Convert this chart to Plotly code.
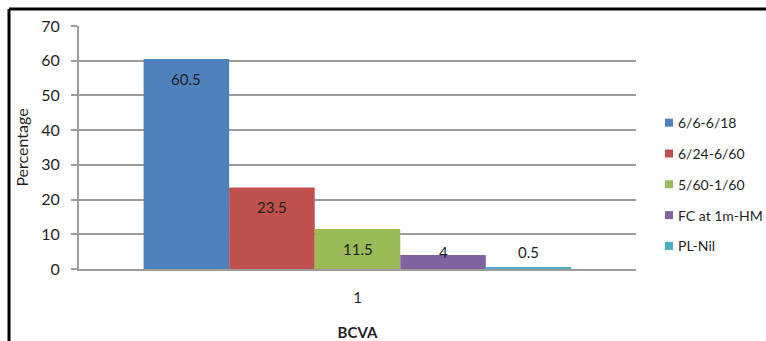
import plotly.graph_objects as go

# BCVA distribution (percent of eyes)
categories = ["1"]
groups = ["6/6-6/18", "6/24-6/60", "5/60-1/60", "FC at 1m-HM", "PL-Nil"]
values = [60.5, 23.5, 11.5, 4, 0.5]
colors = ["#4F81BD", "#C0504D", "#9BBB59", "#8064A2", "#4BACC6"]
y_ticks = [0, 10, 20, 30, 40, 50, 60, 70]

FONT = "Lato, 'Liberation Sans', sans-serif"
TXT = "#1f1f1f"
GRID = "#9c9c9c"

# plot-area geometry in pixels
W, H = 766, 341
L, R, T, B = 79, 636, 26, 269
pw, ph = R - L, B - T
BARGAP = 0.232
bar_px = pw * (1 - BARGAP) / len(values)


def px(xp):
    return (xp - L) / pw


def py(yp):
    return (B - yp) / ph


fig = go.Figure()
for name, v, c in zip(groups, values, colors):
    fig.add_trace(go.Bar(
        x=categories, y=[v], name=name, marker=dict(color=c, line=dict(width=0)),
        hoverinfo="skip", showlegend=False,
    ))

annotations = []
# value labels just inside the top of each bar (short bars keep a floor)
for i, v in enumerate(values):
    annotations.append(dict(
        x=0, y=max(v - 5.75, 4.9), xref="x", yref="y",
        text=f"{v:g}", showarrow=False, font=dict(family=FONT, size=15, color=TXT),
        xshift=(i - (len(values) - 1) / 2) * bar_px,
    ))

shapes = [
    # frame around the chart
    dict(type="line", xref="paper", yref="paper", x0=px(9), x1=px(9), y0=py(9), y1=py(360),
         line=dict(color="black", width=3)),
    dict(type="line", xref="paper", yref="paper", x0=px(9), x1=px(780), y0=py(9), y1=py(9),
         line=dict(color="black", width=3)),
]

# legend: colour swatch + label per group
leg_top, leg_step = 122.7, 30.8
for i, (name, c) in enumerate(zip(groups, colors)):
    yc = leg_top + i * leg_step
    shapes.append(dict(type="rect", xref="paper", yref="paper",
                       x0=px(665), x1=px(673), y0=py(yc - 4), y1=py(yc + 4),
                       fillcolor=c, line=dict(width=0)))
    annotations.append(dict(
        x=px(676), y=py(yc), xref="paper", yref="paper", xanchor="left", yanchor="middle",
        text=name, showarrow=False, font=dict(family=FONT, size=14, color=TXT),
    ))

fig.update_layout(
    width=W, height=H,
    margin=dict(l=L, r=W - R, t=T, b=H - B, pad=0, autoexpand=False),
    paper_bgcolor="white", plot_bgcolor="white",
    barmode="group", bargap=BARGAP, bargroupgap=0,
    font=dict(family=FONT, size=15, color=TXT),
    showlegend=False,
    xaxis=dict(
        type="category", showgrid=False, ticks="", showline=True, automargin=False,
        linecolor=GRID, linewidth=2, ticklabelstandoff=14,
        tickfont=dict(family=FONT, size=15, color=TXT),
        title=dict(text="<b>BCVA</b>", standoff=24, font=dict(family=FONT, size=15, color=TXT)),
    ),
    yaxis=dict(
        range=[0, 70], tickvals=y_ticks, showgrid=True, gridcolor=GRID, gridwidth=1.5,
        zeroline=False, showline=True, linecolor=GRID, linewidth=2, automargin=False,
        ticks="outside", ticklen=6, tickcolor=GRID, tickwidth=1.5,
        ticklabelstandoff=8, tickfont=dict(family=FONT, size=16, color=TXT),
        title=dict(text="Percentage", standoff=9, font=dict(family=FONT, size=16, color=TXT)),
    ),
    annotations=annotations,
    shapes=shapes,
)

fig.write_html("out.html")
